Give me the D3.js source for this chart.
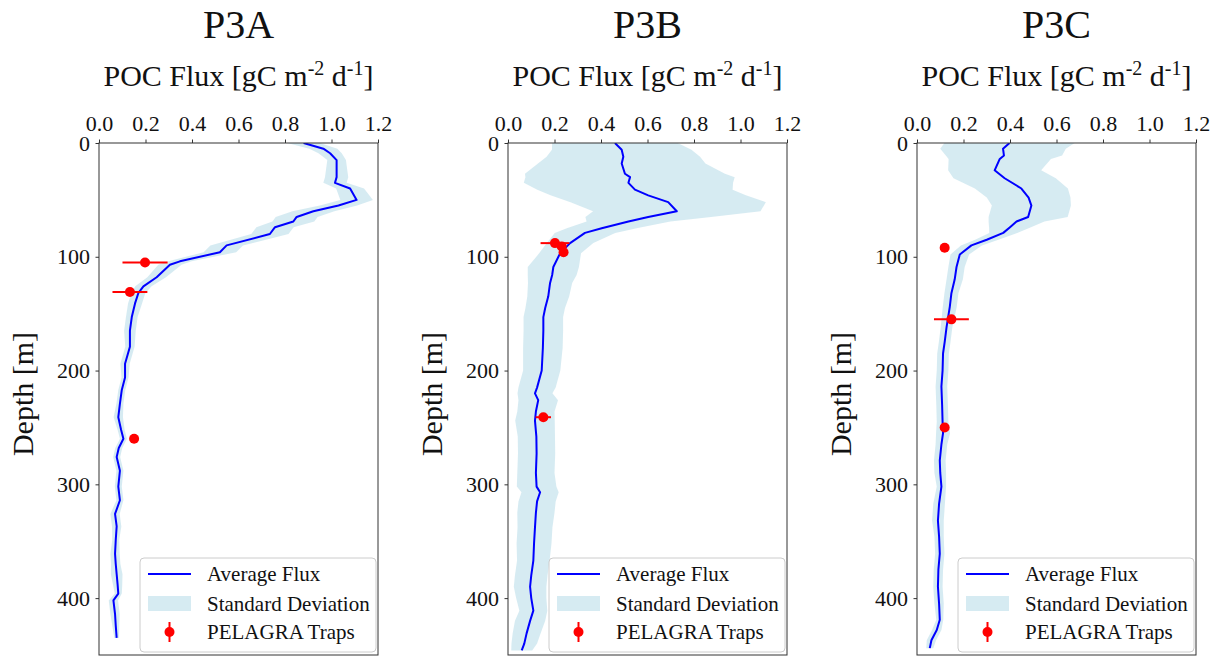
<!DOCTYPE html>
<html>
<head>
<meta charset="utf-8">
<script src="https://cdn.jsdelivr.net/npm/d3@7"></script>
<style>
  html, body { margin: 0; padding: 0; background: #ffffff; }
  svg { display: block; }
  text { font-family: "Liberation Serif", "Times New Roman", serif; fill: #111; }
</style>
</head>
<body>
<svg id="chart" width="1218" height="658"></svg>
<script>
// ---------------- DATA ----------------
const panelTitles = ["P3A", "P3B", "P3C"];
const xTickValues = [0.0, 0.2, 0.4, 0.6, 0.8, 1.0, 1.2];
const yTickValues = [0, 100, 200, 300, 400];
const legendLabels = ["Average Flux", "Standard Deviation", "PELAGRA Traps"];

// P3A
const depthA = [0,5,9,15,30,35,40,50,55,60,65,69,74,80,90,96,104,107,118,126,132,141,153,165,179,194,206,217,229,241,252,260,268,276,288,302,314,326,337,349,361,370,379,388,396,402,414,424,435];
const meanA  = [0.88,0.965,0.994,1.022,1.022,1.015,1.08,1.108,1.03,0.922,0.85,0.836,0.757,0.735,0.549,0.52,0.348,0.305,0.248,0.191,0.169,0.155,0.141,0.133,0.133,0.112,0.112,0.098,0.09,0.083,0.095,0.105,0.085,0.076,0.09,0.083,0.09,0.069,0.076,0.072,0.069,0.072,0.076,0.08,0.083,0.062,0.069,0.072,0.076];
const sdA    = [0.07,0.06,0.05,0.04,0.05,0.05,0.06,0.07,0.08,0.09,0.09,0.09,0.08,0.08,0.07,0.07,0.05,0.05,0.04,0.035,0.03,0.03,0.025,0.025,0.02,0.02,0.015,0.015,0.015,0.02,0.015,0.015,0.015,0.015,0.015,0.015,0.015,0.02,0.02,0.015,0.02,0.02,0.025,0.02,0.015,0.02,0.02,0.015,0.01];
const trapDepthA = [105, 131, 260];
const trapFluxA  = [0.198, 0.133, 0.151];
const trapErrA   = [0.097, 0.075, 0.0];

// P3B
const depthB = [0,6,12,18,27,30,35,41,46,52,60,65,69,75,79,88,97,109,116,123,135,145,153,165,180,200,215,220,226,236,244,258,273,290,302,307,315,325,338,352,367,380,390,400,411,420,431,440,446];
const meanB  = [0.46,0.489,0.496,0.489,0.503,0.525,0.518,0.546,0.603,0.689,0.726,0.603,0.518,0.403,0.331,0.267,0.224,0.195,0.19,0.181,0.173,0.16,0.152,0.152,0.15,0.145,0.125,0.116,0.13,0.12,0.116,0.122,0.123,0.12,0.123,0.138,0.125,0.12,0.116,0.112,0.109,0.1,0.095,0.1,0.109,0.095,0.08,0.07,0.059];
const sdB    = [0.27,0.3,0.33,0.36,0.43,0.45,0.45,0.42,0.42,0.42,0.36,0.27,0.18,0.15,0.13,0.1,0.09,0.11,0.105,0.095,0.09,0.085,0.085,0.085,0.085,0.08,0.08,0.075,0.085,0.08,0.085,0.08,0.08,0.08,0.085,0.08,0.08,0.08,0.075,0.075,0.07,0.07,0.07,0.065,0.06,0.065,0.06,0.055,0.045];
const trapDepthB = [88, 91, 96, 241];
const trapFluxB  = [0.202, 0.231, 0.239, 0.152];
const trapErrB   = [0.062, 0.0, 0.0, 0.033];

// P3C
const depthC = [0,5,11,14,24,31,40,48,55,65,69,74,79,85,90,98,109,120,132,144,162,175,185,200,214,230,245,255,265,279,290,302,317,332,346,361,375,390,405,419,428,437,444];
const meanC  = [0.398,0.37,0.374,0.356,0.334,0.377,0.449,0.48,0.492,0.478,0.428,0.4,0.371,0.3,0.234,0.184,0.17,0.162,0.148,0.141,0.127,0.119,0.112,0.11,0.105,0.108,0.11,0.112,0.105,0.098,0.1,0.105,0.095,0.09,0.095,0.098,0.092,0.09,0.095,0.098,0.085,0.062,0.055];
const sdC    = [0.28,0.27,0.25,0.22,0.2,0.22,0.2,0.18,0.17,0.17,0.12,0.09,0.06,0.05,0.045,0.04,0.035,0.035,0.03,0.03,0.025,0.025,0.025,0.025,0.025,0.025,0.025,0.03,0.025,0.025,0.025,0.02,0.025,0.025,0.02,0.02,0.02,0.02,0.02,0.015,0.02,0.02,0.015];
const trapDepthC = [92, 155, 250];
const trapFluxC  = [0.119, 0.148, 0.119];
const trapErrC   = [0.0, 0.075, 0.0];

const panels = [
  {title: panelTitles[0], depth: depthA, mean: meanA, sd: sdA, tD: trapDepthA, tF: trapFluxA, tE: trapErrA},
  {title: panelTitles[1], depth: depthB, mean: meanB, sd: sdB, tD: trapDepthB, tF: trapFluxB, tE: trapErrB},
  {title: panelTitles[2], depth: depthC, mean: meanC, sd: sdC, tD: trapDepthC, tF: trapFluxC, tE: trapErrC}
];

// ---------------- LAYOUT ----------------
const svg = d3.select("#chart");
const panelLefts = [99, 508, 917];
const pw = 279, topY = 143, bottomY = 655;
const lineColor = "#0000ff", bandColor = "#add8e6", trapColor = "#ff0000";

panels.forEach((p, i) => {
  const left = panelLefts[i];
  const g = svg.append("g");
  const x = d3.scaleLinear().domain([0, 1.2]).range([left, left + pw]);
  const y = d3.scaleLinear().domain([0, 450]).range([topY, bottomY]);

  const clipId = "clip" + i;
  svg.append("clipPath").attr("id", clipId)
    .append("rect").attr("x", left).attr("y", topY).attr("width", pw).attr("height", bottomY - topY);

  const rows = p.depth.map((d, k) => ({d: d, m: p.mean[k], s: p.sd[k]}));

  const plot = g.append("g").attr("clip-path", `url(#${clipId})`);
  plot.append("path")
    .datum(rows)
    .attr("d", d3.area().y(r => y(r.d)).x0(r => x(r.m - r.s)).x1(r => x(r.m + r.s)))
    .attr("fill", bandColor).attr("fill-opacity", 0.5).attr("stroke", "none");
  plot.append("path")
    .datum(rows)
    .attr("d", d3.line().x(r => x(r.m)).y(r => y(r.d)))
    .attr("fill", "none").attr("stroke", lineColor).attr("stroke-width", 2).attr("stroke-linejoin", "round");

  const traps = p.tD.map((d, k) => ({d: d, f: p.tF[k], e: p.tE[k]}));
  plot.selectAll("line.err").data(traps.filter(t => t.e > 0)).enter().append("line")
    .attr("x1", t => x(t.f - t.e)).attr("x2", t => x(t.f + t.e))
    .attr("y1", t => y(t.d)).attr("y2", t => y(t.d))
    .attr("stroke", trapColor).attr("stroke-width", 2);
  plot.selectAll("circle.trap").data(traps).enter().append("circle")
    .attr("cx", t => x(t.f)).attr("cy", t => y(t.d)).attr("r", 5)
    .attr("fill", trapColor);

  // axes
  const xAxis = d3.axisTop(x).tickValues(xTickValues).tickFormat(d3.format(".1f"))
    .tickSize(3.5).tickSizeOuter(0).tickPadding(9);
  const gx = g.append("g").attr("transform", `translate(0,${topY})`).call(xAxis);
  const yAxis = d3.axisLeft(y).tickValues(yTickValues).tickFormat(d3.format("d"))
    .tickSize(3.5).tickSizeOuter(0).tickPadding(5.5);
  const gy = g.append("g").attr("transform", `translate(${left},0)`).call(yAxis);
  [gx, gy].forEach(a => {
    a.select(".domain").remove();
    a.selectAll(".tick line").attr("stroke", "#333").attr("stroke-width", 1);
    a.selectAll(".tick text").style("font-family", '"Liberation Serif", "Times New Roman", serif')
      .style("font-size", "22px").attr("fill", "#111");
  });
  gx.selectAll(".tick text").attr("dy", "0em");

  // spine box
  g.append("rect").attr("x", left).attr("y", topY).attr("width", pw).attr("height", bottomY - topY)
    .attr("fill", "none").attr("stroke", "#333").attr("stroke-width", 1);

  // title
  g.append("text").attr("x", left + pw / 2).attr("y", 38).attr("text-anchor", "middle")
    .style("font-size", "40px").text(p.title);

  // x label with superscripts
  const xl = g.append("text").attr("x", left + pw / 2).attr("y", 86).attr("text-anchor", "middle")
    .style("font-size", "30px");
  xl.append("tspan").text("POC Flux [gC m");
  xl.append("tspan").attr("dy", -11).style("font-size", "20px").text("-2");
  xl.append("tspan").attr("dy", 11).text(" d");
  xl.append("tspan").attr("dy", -11).style("font-size", "20px").text("-1");
  xl.append("tspan").attr("dy", 11).text("]");

  // y label
  g.append("text").attr("transform", `translate(${left - 66},${394}) rotate(-90)`)
    .attr("text-anchor", "middle").style("font-size", "30px").text("Depth [m]");

  // legend
  const lg = g.append("g").attr("transform", `translate(${left},0)`);
  lg.append("rect").attr("x", 41).attr("y", 558).attr("width", 236).attr("height", 94)
    .attr("rx", 4).attr("fill", "#ffffff").attr("fill-opacity", 0.8)
    .attr("stroke", "#cccccc").attr("stroke-width", 1);
  lg.append("line").attr("x1", 49).attr("x2", 92).attr("y1", 574).attr("y2", 574)
    .attr("stroke", lineColor).attr("stroke-width", 2);
  lg.append("rect").attr("x", 49).attr("y", 596).attr("width", 43).attr("height", 15)
    .attr("fill", bandColor).attr("fill-opacity", 0.5);
  lg.append("line").attr("x1", 70.5).attr("x2", 70.5).attr("y1", 622).attr("y2", 642)
    .attr("stroke", trapColor).attr("stroke-width", 2);
  lg.append("circle").attr("cx", 70.5).attr("cy", 632).attr("r", 5).attr("fill", trapColor);
  const rowY = [574, 603.5, 632];
  legendLabels.forEach((t, k) => {
    lg.append("text").attr("x", 108).attr("y", rowY[k]).attr("dy", "0.35em")
      .style("font-size", "21px").text(t);
  });
});
</script>
</body>
</html>
